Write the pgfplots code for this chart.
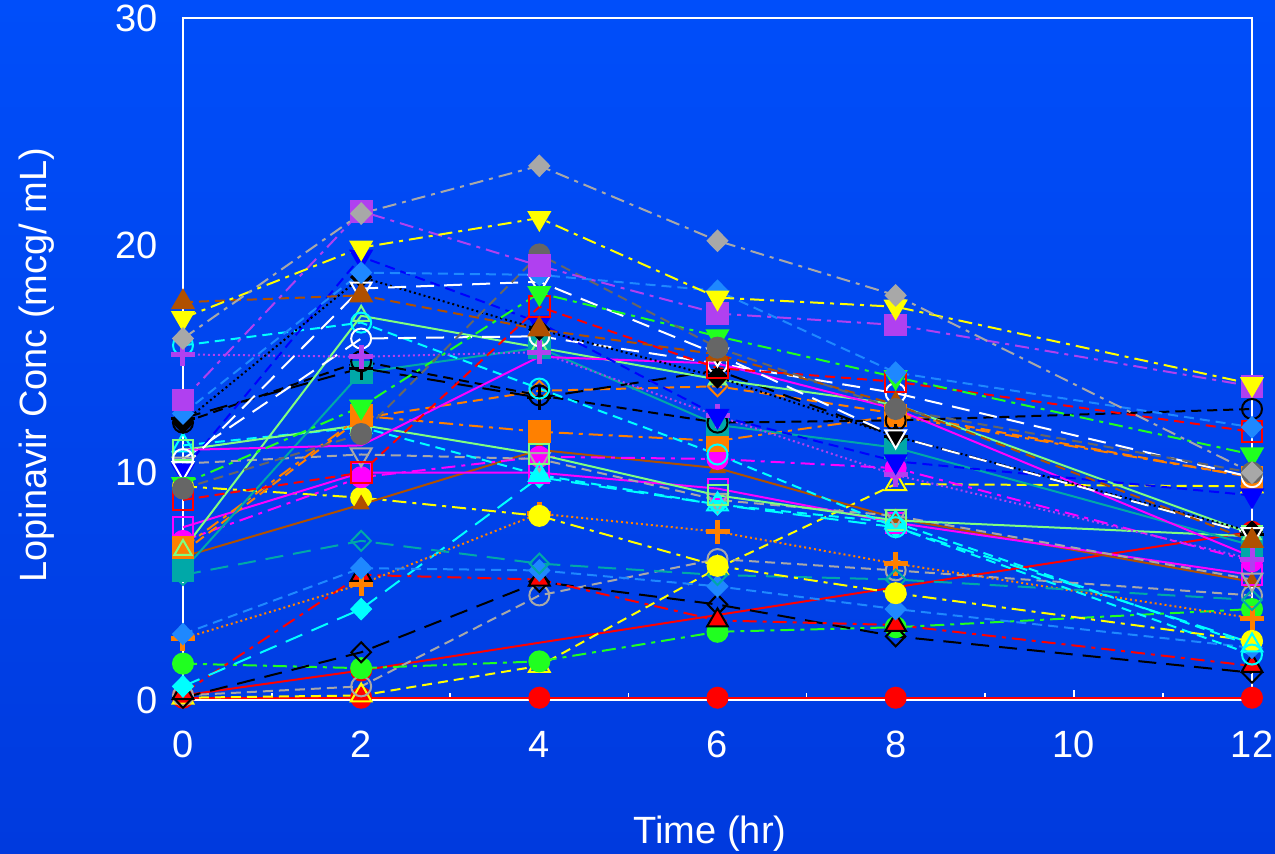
\documentclass[border=0pt]{standalone}
\usepackage{pgfplots}
\pgfplotsset{compat=1.18}
\usepackage{fontspec}
\setmainfont{Liberation Sans}
\definecolor{bgtop}{HTML}{004EFA}
\definecolor{bgbot}{HTML}{003ADE}
\definecolor{cgray}{HTML}{A8A8A8}
\definecolor{dgray}{HTML}{666666}
\definecolor{cpurple}{HTML}{B040F0}
\definecolor{cdodger}{HTML}{1E88FF}
\definecolor{cgreen}{HTML}{20FF20}
\definecolor{cbrown}{HTML}{B05000}
\definecolor{cteal}{HTML}{00A8A8}
\definecolor{corange}{HTML}{FF8000}
\definecolor{cpale}{HTML}{80FF80}
\definecolor{cyellow}{HTML}{FFFF00}
\definecolor{cmag}{HTML}{FF00FF}
\definecolor{ccyan}{HTML}{00FFFF}
\definecolor{cblue}{HTML}{0000FF}
\tikzset{
 dsh/.style={dash pattern=on 5pt off 3pt},
 ldsh/.style={dash pattern=on 9pt off 5pt},
 dd/.style={dash pattern=on 7pt off 3pt on 2pt off 3pt},
 dt/.style={dash pattern=on 1pt off 1.5pt},
}
\begin{document}
\begin{tikzpicture}
\shade[top color=bgtop, bottom color=bgbot] (-91.5pt,-76.5pt) rectangle (546pt,350pt);
\begin{axis}[
 scale only axis, width=534.5pt, height=341pt,
 at={(0,0)}, anchor=south west,
 xmin=0, xmax=12, ymin=0, ymax=30,
 clip=false,
 axis line style={white, line width=0.8pt},
 xtick={0,2,4,6,8,10,12}, minor xtick={1,3,5,7,9,11},
 ytick={0,10,20,30},
 xtick pos=bottom, ytick pos=left,
 tick align=inside,
 major tick length=5pt, minor tick length=3.5pt,
 xtick style={white, line width=0.8pt},
 ytick style={draw=none},
 /pgf/number format/assume math mode=true,
 ticklabel style={font=\fontsize{19}{22}\selectfont, text=white},
 xticklabel style={yshift=-12pt},
 yticklabel style={xshift=-9pt},
 xlabel={Time (hr)}, ylabel={Lopinavir Conc (mcg/ mL)},
 label style={font=\fontsize{19}{22}\selectfont, text=white},
 xlabel style={at={(axis description cs:0.493,-0.2097)}, anchor=base},
 ylabel style={at={(axis description cs:-0.128,0.491)}, anchor=base},
 every axis plot/.append style={line width=1pt},
]
% red zeros
\addplot[red, mark=*, mark size=5pt, mark options={solid}] coordinates {(0,0.1)(2,0.1)(4,0.1)(6,0.1)(8,0.1)(12,0.1)};
% red rising
\addplot[red, mark=*, mark size=5pt, mark options={solid}] coordinates {(0,0.2)(2,1.3)(12,7.4)};
% yellow open triangle
\addplot[cyellow, dsh, mark=triangle, mark size=6pt, mark options={solid}] coordinates {(0,0.1)(2,0.2)(4,1.5)(6,5.8)(8,9.5)(12,9.4)};
% gray open circle
\addplot[cgray, dsh, mark=o, mark size=5pt, mark options={solid}] coordinates {(0,0.2)(2,0.6)(4,4.6)(6,6.2)(8,5.7)(12,4.6)};
% green circle
\addplot[cgreen, dd, mark=*, mark size=5pt, mark options={solid}] coordinates {(0,1.6)(2,1.4)(4,1.7)(6,3.0)(8,3.2)(12,4.0)};
% black open diamond
\addplot[black, ldsh, mark=diamond, mark size=5pt, mark options={solid, xscale=1.3}] coordinates {(0,0.1)(2,2.1)(4,5.2)(6,4.2)(8,2.8)(12,1.2)};
% red triangle black outline
\addplot[red, dd, mark=triangle*, mark size=6pt, mark options={solid, draw=black, fill=red}] coordinates {(0,0.3)(2,5.5)(4,5.3)(6,3.5)(8,3.3)(12,1.5)};
% cyan diamond
\addplot[ccyan, ldsh, mark=diamond*, mark size=5pt, mark options={solid, xscale=1.3}] coordinates {(0,0.6)(2,4.0)(4,9.8)(6,8.6)(8,7.6)(12,2.5)};
% orange plus
\addplot[corange, dt, mark=+, mark size=6pt, mark options={solid, line width=2.5pt}] coordinates {(0,2.7)(2,5.1)(4,8.2)(6,7.4)(8,6.0)(12,3.6)};
% dodger small diamond low
\addplot[cdodger, dsh, mark=diamond*, mark size=5pt, mark options={solid, xscale=1.3}] coordinates {(0,2.9)(2,5.8)(4,5.7)(6,5.0)(8,4.0)(12,2.3)};
% teal open diamond
\addplot[cteal, ldsh, mark=diamond, mark size=5pt, mark options={solid, xscale=1.3}] coordinates {(0,5.5)(2,7.0)(4,6.0)(6,5.5)(8,5.3)(12,4.4)};
% yellow circle
\addplot[cyellow, dd, mark=*, mark size=5pt, mark options={solid}] coordinates {(0,9.4)(2,8.9)(4,8.1)(6,5.9)(8,4.7)(12,2.6)};
% brown solid
\addplot[cbrown, mark=triangle*, mark size=4pt, mark options={solid}] coordinates {(0,6.3)(2,8.6)(4,11.0)(6,10.2)(8,8.0)(12,5.2)};
% magenta open square
\addplot[cmag, mark=square, mark size=5pt, mark options={solid}] coordinates {(0,7.6)(2,10.0)(4,10.0)(6,9.3)(8,7.8)(12,5.5)};
% magenta circle
\addplot[cmag, dd, mark=*, mark size=5pt, mark options={solid}] coordinates {(0,7.0)(2,9.8)(4,10.7)(6,10.6)(8,10.2)(12,6.1)};
% gray open down triangle
\addplot[cgray, dsh, mark=triangle, mark size=6pt, mark options={solid, rotate=180}] coordinates {(0,10.4)(2,10.8)(4,10.6)(6,8.8)(8,8.1)(12,5.3)};
% cyan open triangle
\addplot[ccyan, dsh, mark=triangle, mark size=6pt, mark options={solid}] coordinates {(0,11.2)(2,12.0)(4,9.9)(6,8.6)(8,7.8)(12,2.4)};
% pale green open square
\addplot[cpale, mark=square, mark size=5pt, mark options={solid}] coordinates {(0,11.0)(2,12.1)(4,10.8)(6,9.0)(8,7.9)(12,7.2)};
% orange square
\addplot[corange, dd, mark=square*, mark size=5.2pt, mark options={solid}] coordinates {(0,6.7)(2,12.5)(4,11.8)(6,11.4)(8,12.5)(12,9.8)};
% orange open diamond
\addplot[corange, dsh, mark=diamond, mark size=5pt, mark options={solid, xscale=1.3}] coordinates {(0,6.5)(2,12.4)(4,13.6)(6,13.8)(8,12.6)(12,9.8)};
% teal square
\addplot[cteal, mark=square*, mark size=5.2pt, mark options={solid}] coordinates {(0,5.7)(2,14.4)(4,15.5)(6,12.1)(8,11.1)(12,6.8)};
% black dashed plus
\addplot[black, ldsh, mark=+, mark size=6pt, mark options={solid, line width=1.5pt}] coordinates {(0,12.4)(2,14.6)(4,13.3)(6,14.5)(8,11.6)(12,7.3)};
% black open circle
\addplot[black, dsh, mark=o, mark size=5pt, mark options={solid}] coordinates {(0,12.2)(2,14.9)(4,13.4)(6,12.2)(8,12.3)(12,12.8)};
% pale green steep
\addplot[cpale, mark=triangle, mark size=5pt, mark options={solid}] coordinates {(0,6.6)(2,16.9)(4,15.5)(6,14.1)(8,13.0)(12,7.3)};
% cyan open circle
\addplot[ccyan, dsh, mark=o, mark size=5pt, mark options={solid}] coordinates {(0,15.6)(2,16.6)(4,13.7)(6,10.8)(8,7.6)(12,2.0)};
% white open circle
\addplot[white, ldsh, mark=o, mark size=5pt, mark options={solid}] coordinates {(0,10.6)(2,15.9)(4,16.0)(6,14.8)(8,13.5)(12,9.8)};
% purple plus
\addplot[cpurple, dt, mark=+, mark size=6pt, mark options={solid, line width=2.5pt}] coordinates {(0,15.2)(2,15.1)(4,15.3)(6,12.5)(8,9.9)(12,6.2)};
% magenta solid
\addplot[cmag, mark=none] coordinates {(0,11.0)(2,11.2)(4,15.1)(6,14.8)(8,12.8)(12,6.3)};
% blue down triangle
\addplot[cblue, dsh, mark=triangle*, mark size=6pt, mark options={solid, rotate=180}] coordinates {(0,10.1)(2,19.5)(4,16.6)(6,12.5)(8,10.5)(12,9.0)};
% black diamond dotted
\addplot[black, dt, mark=diamond*, mark size=5pt, mark options={solid, xscale=1.3}] coordinates {(0,12.2)(2,18.6)(4,16.3)(6,14.2)(8,11.6)(12,7.4)};
% white open down triangle
\addplot[white, ldsh, mark=triangle, mark size=6pt, mark options={solid, rotate=180}] coordinates {(0,10.2)(2,18.1)(4,18.4)(6,15.2)(8,11.6)(12,7.3)};
% red open square
\addplot[red, dsh, mark=square, mark size=5.2pt, mark options={solid}] coordinates {(0,8.8)(2,10.0)(4,17.3)(6,14.6)(8,14.0)(12,11.8)};
% brown triangle
\addplot[cbrown, dsh, mark=triangle*, mark size=6pt, mark options={solid}] coordinates {(0,17.5)(2,17.8)(4,16.3)(6,15.2)(8,13.0)(12,7.0)};
% green down triangle
\addplot[cgreen, dd, mark=triangle*, mark size=6pt, mark options={solid, rotate=180}] coordinates {(0,9.5)(2,12.9)(4,17.9)(6,16.0)(8,14.2)(12,10.8)};
% dark gray circle
\addplot[dgray, dsh, mark=*, mark size=5pt, mark options={solid}] coordinates {(0,9.3)(2,11.7)(4,19.6)(6,15.5)(8,12.8)(12,10.0)};
% dodger diamond
\addplot[cdodger, dsh, mark=diamond*, mark size=5pt, mark options={solid, xscale=1.3}] coordinates {(0,12.6)(2,18.8)(4,18.7)(6,18.0)(8,14.4)(12,12.0)};
% purple square
\addplot[cpurple, dd, mark=square*, mark size=5.2pt, mark options={solid}] coordinates {(0,13.2)(2,21.5)(4,19.1)(6,17.0)(8,16.5)(12,13.8)};
% yellow down triangle
\addplot[cyellow, dd, mark=triangle*, mark size=6pt, mark options={solid, rotate=180}] coordinates {(0,16.8)(2,19.9)(4,21.2)(6,17.7)(8,17.3)(12,13.9)};
% gray diamond
\addplot[cgray, dd, mark=diamond*, mark size=5pt, mark options={solid, xscale=1.3}] coordinates {(0,15.9)(2,21.4)(4,23.5)(6,20.2)(8,17.8)(12,10.0)};
\end{axis}
\pgfresetboundingbox
\path (-91.5pt,-76.5pt) rectangle (546pt,350pt);
\end{tikzpicture}
\end{document}
